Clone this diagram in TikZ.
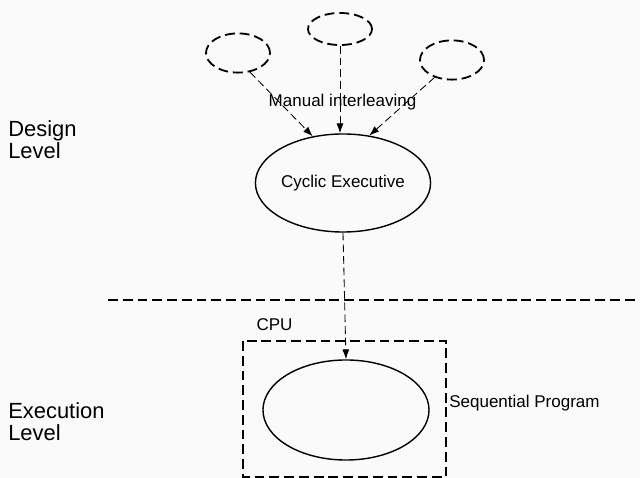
\documentclass[tikz,border=0pt]{standalone}
\usepackage{fontspec}
\setmainfont{Liberation Sans}
\usepackage{tikz}
\usetikzlibrary{arrows.meta,shapes.geometric,backgrounds}

\begin{document}
\begin{tikzpicture}[x=0.025cm,y=-0.025cm,
  every node/.style={font=\fontsize{12.1}{15.6}\selectfont},
  thread/.style={draw,ellipse,line width=1.3pt,dash pattern=on 7pt off 3.5pt,inner sep=0pt,minimum width=1.6cm,minimum height=0.98cm},
  task/.style={draw,ellipse,line width=1pt,inner sep=0pt,minimum width=4.15cm,minimum height=2.45cm},
  link/.style={line width=0.6pt,dash pattern=on 5.5pt off 2.8pt,-{Latex[length=7pt,width=5pt]}},
  border/.style={line width=1.3pt,dash pattern=on 7pt off 3.5pt},
  level/.style={anchor=west,align=left,inner sep=0pt,font=\fontsize{15.6}{15.6}\selectfont}]
\fill[fill={rgb,255:red,250;green,250;blue,250}] (0,0) rectangle (640,478);
\useasboundingbox (0,0) rectangle (640,478);

% design level
\node[thread] (tl) at (238,53) {};
\node[thread,minimum height=0.8cm] (tm) at (340,29) {};
\node[thread] (tr) at (452,60) {};
\node[task] (ce) at (343,183) {Cyclic Executive};
\node (mi) at (342.5,102) {Manual interleaving};
\draw[link] (tl.-58) -- (ce.123);
\draw[link] (tm.south) -- (tm.south |- ce.north);
\draw[link] (tr.-135) -- (ce.61);
\node[level] (dl) at (8,139.5) {Design\\Level};

% separator
\draw[border] (108,300) -- (640,300);

% execution level
\draw[border] (243,341) rectangle (446,477);
\node (cpu) at (274.5,325) {CPU};
\node[task,minimum height=2.5cm] (seq) at (346,410) {};
\draw[link] (ce.south) -- (seq.north);
\node[anchor=west,inner sep=0pt] (sp) at (449,403) {Sequential Program};
\node[level] (el) at (8,421.7) {Execution\\Level};
\end{tikzpicture}
\end{document}
